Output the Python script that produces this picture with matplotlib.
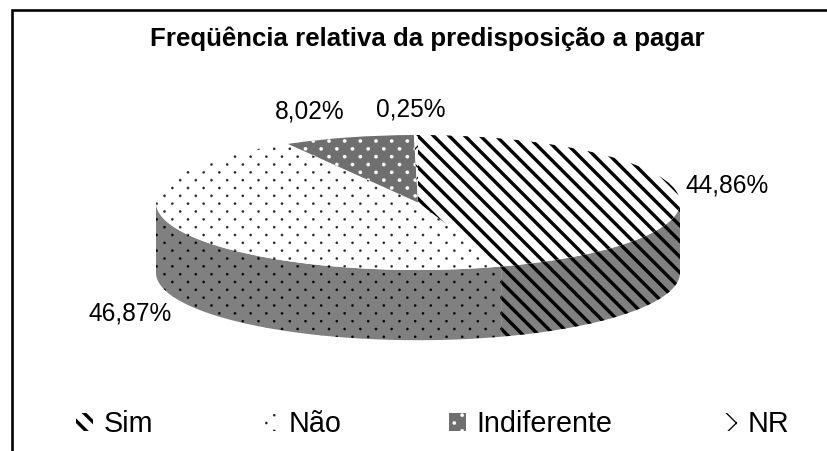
"""Relative frequency of willingness to pay, drawn as a tilted 3D-look pie."""

import matplotlib.hatch as mhatch
import matplotlib.path as mpath
import matplotlib.pyplot as plt
import numpy as np

plt.rcParams["font.family"] = ["Liberation Sans", "DejaVu Sans"]

TITLE = "Freqüência relativa da predisposição a pagar"
CATEGORIES = ["Sim", "Não", "Indiferente", "NR"]
SHARES = [44.86, 46.87, 8.02, 0.25]
SHARE_LABELS = ["44,86%", "46,87%", "8,02%", "0,25%"]
HATCHES = ["\\\\", "o", "*", "x"]
FACES = ["white", "white", "#6f6f6f", "white"]
HATCH_COLORS = ["black", "#222222", "white", "black"]
HATCH_WIDTHS = [2.6, 0.2, 0.2, 1.0]

WIDTH, HEIGHT = 828, 451
DPI = 94
SIDE_GRAY = "#808080"
DEPTH = 1.04


class StaggeredDots(mhatch.HatchPatternBase):
    """Small dots in staggered rows, twice as many rows as columns."""

    filled = True

    def __init__(self, hatch, density):
        self.marks = hatch.count("o") + hatch.count("*")
        self.num_rows = self.marks * density * 2
        self.radius = 0.012 if "o" in hatch else 0.018
        self.num_vertices = 0
        if self.marks:
            count = sum(len(self._columns(row)) for row in range(self.num_rows + 1))
            self.num_vertices = count * len(mpath.Path.unit_circle().vertices)

    def _columns(self, row):
        step = 2.0 / self.num_rows
        if row % 2 == 0:
            return np.arange(0, 1 + step / 2, step)
        return np.arange(step / 2, 1, step)

    def set_vertices_and_codes(self, vertices, codes):
        if not self.marks:
            return
        circle = mpath.Path.unit_circle()
        size = len(circle.vertices)
        cursor = 0
        for row in range(self.num_rows + 1):
            for col in self._columns(row):
                vertices[cursor:cursor + size] = (
                    circle.vertices * self.radius + [col, row / self.num_rows]
                )
                codes[cursor:cursor + size] = circle.codes
                cursor += size


# the stock "o" and "*" patterns would draw on top of the dots
mhatch._hatch_types = [
    kind for kind in mhatch._hatch_types
    if kind not in (mhatch.SmallCircles, mhatch.Stars)
] + [StaggeredDots]


def px_box(left, top, right, bottom):
    """Figure-fraction rectangle from pixel edges."""
    return [left / WIDTH, 1 - bottom / HEIGHT, (right - left) / WIDTH, (bottom - top) / HEIGHT]


def draw_side(ax, start_deg, end_deg, face, hatch, hatch_color, hatch_width):
    """Draw the visible rim of one slice (front half of the ellipse only)."""
    start, end = max(start_deg, 90), min(end_deg, 270)
    if end <= start:
        return
    angles = np.radians(np.linspace(start, end, 120))
    x = np.sin(angles)
    y = np.cos(angles)
    with plt.rc_context({"hatch.linewidth": hatch_width}):
        ax.fill_between(x, y - DEPTH, y, facecolor=face, edgecolor=hatch_color, hatch=hatch,
                        linewidth=0, clip_on=False, zorder=1)


def main():
    fig = plt.figure(figsize=(WIDTH / DPI, HEIGHT / DPI), dpi=DPI, facecolor="white")

    # frame: only top and left edges are inside the crop
    frame = fig.add_axes([0, 0, 1, 1])
    frame.set_xlim(0, WIDTH)
    frame.set_ylim(HEIGHT, 0)
    frame.axis("off")
    frame.plot([12, 12, WIDTH], [HEIGHT, 10, 10], color="black", lw=2.0,
               solid_joinstyle="miter", solid_capstyle="butt")

    ax = fig.add_axes(px_box(156, 135, 680, 270))
    wedges, _ = ax.pie(SHARES, startangle=90, counterclock=False, radius=1,
                       wedgeprops={"linewidth": 0})
    ax.set_aspect("auto")
    ax.set_xlim(-1, 1)
    ax.set_ylim(-1, 1)
    for wedge, face, hatch, color, width in zip(wedges, FACES, HATCHES, HATCH_COLORS, HATCH_WIDTHS):
        wedge.set_facecolor(face)
        wedge.set_edgecolor(color)
        wedge.set_hatch(hatch)
        wedge.set_hatch_linewidth(width)
        wedge.set_clip_on(False)
        wedge.set_zorder(2)

    # clockwise angles from 12 o'clock, as the pie lays them out
    edges = np.concatenate([[0], np.cumsum(SHARES)]) * 3.6
    for i in range(len(SHARES)):
        draw_side(ax, edges[i], edges[i + 1], SIDE_GRAY, HATCHES[i], "black", HATCH_WIDTHS[i])

    frame.set_zorder(3)
    frame.patch.set_alpha(0)

    frame.text(427, 39, TITLE, ha="center", va="center", fontsize=19.8, fontweight="bold")
    label_spots = [(727, 186), (130, 313), (310, 111), (411, 110)]
    for text, (x, y) in zip(SHARE_LABELS, label_spots):
        frame.text(x, y, text, ha="center", va="center", fontsize=18.8)

    legend = frame.legend(wedges, CATEGORIES, ncol=4, frameon=False, fontsize=22,
                          loc="center left", bbox_to_anchor=(76 / WIDTH, 1 - 424 / HEIGHT),
                          bbox_transform=fig.transFigure, borderaxespad=0, borderpad=0,
                          handlelength=0.58, handleheight=0.58, handletextpad=0.38,
                          columnspacing=3.75)
    legend.set_zorder(4)
    for handle, width in zip(legend.get_patches(), HATCH_WIDTHS):
        handle.set_hatch_linewidth(width)

    fig.savefig("out.png", dpi=DPI)
    plt.close(fig)


if __name__ == "__main__":
    main()
